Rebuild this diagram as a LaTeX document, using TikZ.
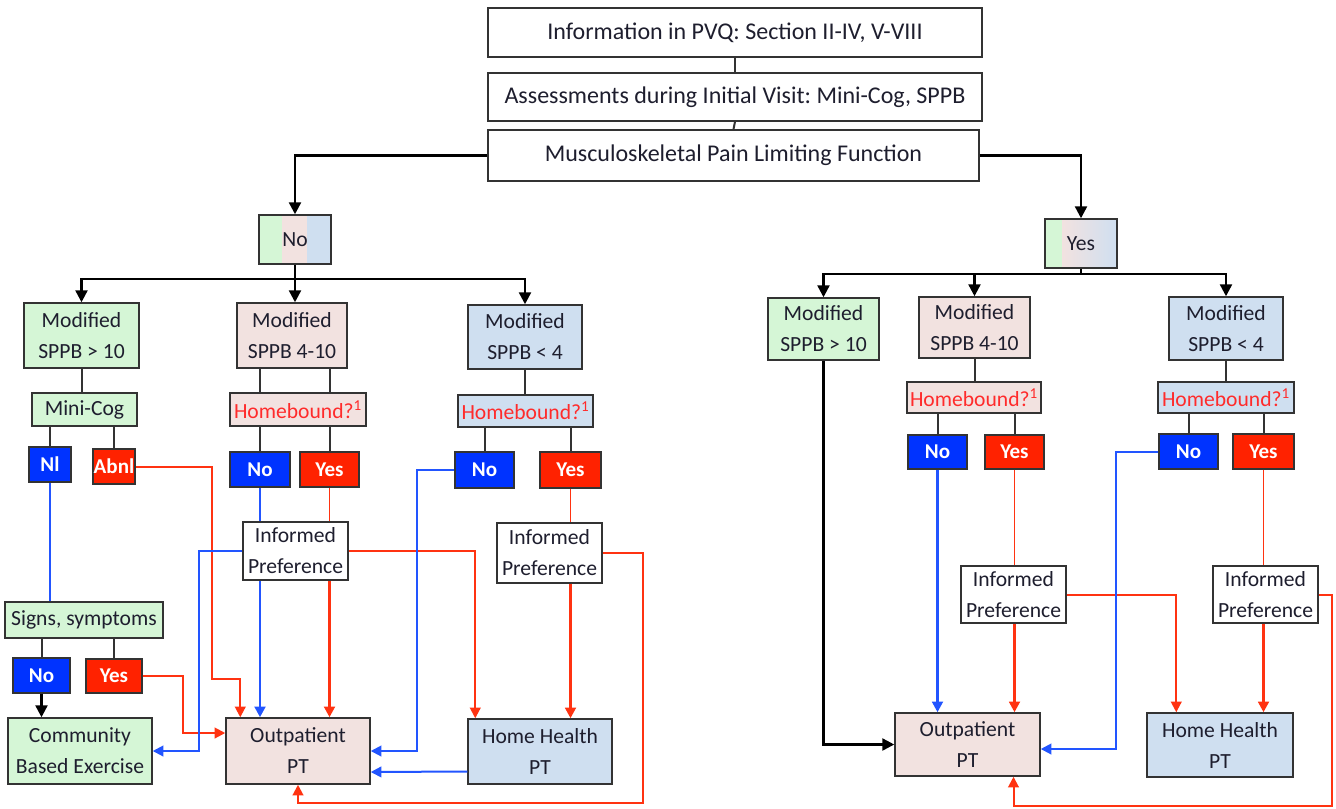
\documentclass[tikz,border=0pt]{standalone}
\usepackage{fontspec}
\setmainfont{Carlito}
\usetikzlibrary{arrows.meta,calc}
\frenchspacing
\definecolor{gF}{HTML}{D5F6D6}
\definecolor{pF}{HTML}{F2E2E0}
\definecolor{bF}{HTML}{CFDFF0}
\definecolor{cNo}{HTML}{0033FF}
\definecolor{cYes}{HTML}{FF2200}
\definecolor{lnR}{HTML}{FF3311}
\definecolor{lnB}{HTML}{2255FF}
\definecolor{hbT}{HTML}{FF2B2B}
\definecolor{bd}{HTML}{333333}
\definecolor{tx}{HTML}{1E1E2E}
\newcommand\pbx[7][]{\node[#1, minimum width={(#4-#2)*0.75pt}, minimum height={(#5-#3)*0.75pt}] (#6) at ({(#2+#4)/2},{(#3+#5)/2}) {#7};}
\tikzset{
  box/.style={draw=bd, line width=1.1pt, inner sep=0pt, align=center, text=tx, font=\fontsize{16.2}{23.25}\selectfont},
  gbox/.style={box, fill=gF},
  pbox/.style={box, fill=pF},
  bbox/.style={box, fill=bF},
  wbox/.style={box, fill=white},
  topbox/.style={box, fill=white, font=\fontsize{18}{22}\selectfont},
  hbt/.style={text=hbT},
  nobox/.style={box, fill=cNo, text=white, font=\fontsize{15.8}{18}\selectfont\bfseries},
  yesbox/.style={box, fill=cYes, text=white, font=\fontsize{15.8}{18}\selectfont\bfseries},
  lk/.style={draw=bd, line width=1.5pt},
  blkA/.style={draw=black, line width=1.8pt, -{Triangle[length=9pt,width=9pt]}},
  rthin/.style={draw=lnR, line width=1.2pt},
  bthin/.style={draw=lnB, line width=1.2pt},
  rA/.style={draw=lnR, line width=2pt, -{Triangle[length=8pt,width=8pt]}},
  bA/.style={draw=lnB, line width=2pt, -{Triangle[length=8pt,width=8pt]}},
  rAt/.style={draw=lnR, line width=1.5pt, -{Triangle[length=8pt,width=8pt]}},
  bAt/.style={draw=lnB, line width=1.5pt, -{Triangle[length=8pt,width=8pt]}},
}
\begin{document}
\begin{tikzpicture}[x=0.75pt,y=-0.75pt]
\useasboundingbox (0,0) rectangle (1336,808);
% top
\pbx[topbox]{488}{8}{982}{57}{info}{Information in PVQ: Section II-IV, V-VIII}
\pbx[topbox]{488}{73}{982}{121}{assess}{Assessments during Initial Visit: Mini-Cog, SPPB}
\pbx[topbox]{488}{130}{979}{181}{musc}{Musculoskeletal Pain Limiting Function}
% No / Yes banded boxes
\fill[gF] (259,215) rectangle (282,264);
\fill[pF] (282,215) rectangle (307,264);
\fill[bF] (307,215) rectangle (331,264);
\pbx[box]{259}{215}{331}{264}{no}{No}
\fill[gF] (1045,219) rectangle (1062,268);
\shade[left color=pF, right color=bF] (1062,219) rectangle (1117,268);
\pbx[box]{1045}{219}{1117}{268}{yes}{Yes}
% left group
\pbx[gbox]{24}{303}{139}{368}{lmA}{Modified\\SPPB > 10}
\pbx[pbox]{237}{303}{347}{368}{lmB}{Modified\\SPPB 4-10}
\pbx[bbox]{468}{305}{582}{369}{lmC}{Modified\\SPPB < 4}
\pbx[gbox]{32}{393}{137}{426}{mc}{Mini-Cog}
\pbx[pbox,hbt]{230}{393}{366}{426}{hbA}{Homebound?\textsuperscript{1}}
\pbx[bbox,hbt]{458}{395}{593}{427}{hbB}{Homebound?\textsuperscript{1}}
\pbx[nobox]{29}{447}{71}{482}{nl}{Nl}
\pbx[yesbox]{93}{449}{135}{484}{abnl}{Abnl}
\pbx[nobox]{230}{452}{290}{487}{noA}{No}
\pbx[yesbox]{300}{452}{359}{487}{yesA}{Yes}
\pbx[nobox]{455}{452}{514}{488}{noB}{No}
\pbx[yesbox]{540}{452}{601}{488}{yesB}{Yes}
\pbx[wbox]{243}{522}{348}{580}{ipA}{Informed\\Preference}
\pbx[wbox]{497}{523}{602}{583}{ipB}{Informed\\Preference}
\pbx[gbox]{5}{602}{163}{638}{ss}{Signs, symptoms}
\pbx[nobox]{13}{658}{70}{693}{ssno}{No}
\pbx[yesbox]{86}{659}{142}{693}{ssyes}{Yes}
\pbx[gbox]{8}{718}{152}{784}{com}{Community\\Based Exercise}
\pbx[pbox]{226}{718}{370}{784}{opA}{Outpatient\\PT}
\pbx[bbox]{468}{719}{612}{784}{hhA}{Home Health\\PT}
% right group
\pbx[gbox]{768}{298}{879}{360}{rmA}{Modified\\SPPB > 10}
\pbx[pbox]{919}{297}{1030}{358}{rmB}{Modified\\SPPB 4-10}
\pbx[bbox]{1169}{297}{1283}{360}{rmC}{Modified\\SPPB < 4}
\pbx[pbox,hbt]{907}{382}{1041}{413}{hbC}{Homebound?\textsuperscript{1}}
\pbx[bbox,hbt]{1158}{382}{1294}{413}{hbD}{Homebound?\textsuperscript{1}}
\pbx[nobox]{908}{435}{967}{469}{noC}{No}
\pbx[yesbox]{985}{435}{1044}{469}{yesC}{Yes}
\pbx[nobox]{1159}{434}{1218}{469}{noD}{No}
\pbx[yesbox]{1233}{434}{1294}{469}{yesD}{Yes}
\pbx[wbox]{961}{566}{1066}{623}{ipC}{Informed\\Preference}
\pbx[wbox]{1213}{566}{1318}{623}{ipD}{Informed\\Preference}
\pbx[pbox]{895}{713}{1040}{776}{opB}{Outpatient\\PT}
\pbx[bbox]{1147}{713}{1293}{777}{hhB}{Home Health\\PT}
% top connectors
\draw[lk] (info.south) -- (assess.north);
\draw[lk] (assess.south) -- (musc.north);
\draw[blkA] (musc.west) -| (no.north);
\draw[blkA] (musc.east) -| (yes.north);
\coordinate (nbar) at (295,279);
\coordinate (ybar) at (1081,274);
\draw[blkA] (no.south) -- (no.south |- lmB.north);
\draw[blkA] (nbar) -| (lmA.north);
\draw[blkA] (nbar) -| (lmC.north);
\draw[draw=black, line width=1.8pt] (yes.south) -- (ybar);
\draw[blkA] (ybar) -| (rmA.north);
\draw[blkA] (ybar) -| (rmB.north);
\draw[blkA] (ybar) -| (rmC.north);
% left grey links
\draw[lk] (lmA.south) -- (lmA.south |- mc.north);
\draw[lk] (nl.north |- mc.south) -- (nl.north);
\draw[lk] (abnl.north |- mc.south) -- (abnl.north);
\draw[lk] (noA.north |- lmB.south) -- (noA.north |- hbA.north);
\draw[lk] (yesA.north |- lmB.south) -- (yesA.north |- hbA.north);
\draw[lk] (noA.north |- hbA.south) -- (noA.north);
\draw[lk] (yesA.north |- hbA.south) -- (yesA.north);
\draw[lk] (lmC.south) -- (lmC.south |- hbB.north);
\draw[lk] (noB.north |- hbB.south) -- (noB.north);
\draw[lk] (yesB.north |- hbB.south) -- (yesB.north);
\draw[lk] (ssno.north |- ss.south) -- (ssno.north);
\draw[lk] (ssyes.north |- ss.south) -- (ssyes.north);
\draw[blkA] (ssno.south) -- (ssno.south |- com.north);
% right grey links
\draw[lk] (rmB.south) -- (rmB.south |- hbC.north);
\draw[lk] (noC.north |- hbC.south) -- (noC.north);
\draw[lk] (yesC.north |- hbC.south) -- (yesC.north);
\draw[lk] (rmC.south) -- (rmC.south |- hbD.north);
\draw[lk] (noD.north |- hbD.south) -- (noD.north);
\draw[lk] (yesD.north |- hbD.south) -- (yesD.north);
% left coloured connectors
\draw[bthin] (nl.south) -- (nl.south |- ss.north);
\draw[rAt] (abnl.east) -| (212,679) -| ($(opA.north west)+(15,0)$);
\draw[rAt] (ssyes.east) -| (183,733) -- ($(opA.west)+(0,-18)$);
\draw[bAt] (ipA.west) -| (199,751) -- (com.east);
\draw[bthin] (noA.south) -- (noA.south |- ipA.north);
\draw[bA] (noA.south |- ipA.south) -- (noA.south |- opA.north);
\draw[rthin] (yesA.south) -- (yesA.south |- ipA.north);
\draw[rA] (yesA.south |- ipA.south) -- (yesA.south |- opA.north);
\draw[rAt] (ipA.east) -| ($(hhA.north west)+(8,0)$);
\draw[bAt] (noB.west) -| (417,751) -- (opA.east);
\draw[bAt] ($(hhA.west)+(0,20)$) -- ($(opA.east)+(0,21)$);
\draw[rthin] (yesB.south) -- (yesB.south |- ipB.north);
\draw[rA] (yesB.south |- ipB.south) -- (yesB.south |- hhA.north);
\draw[rAt] (ipB.east) -| (643,803) -| (opA.south);
% right coloured connectors
\draw[blkA] (rmA.south) |- (opB.west);
\draw[bA] (noC.south) -- (noC.south |- opB.north);
\draw[rthin] (yesC.south) -- (yesC.south |- ipC.north);
\draw[rA] (yesC.south |- ipC.south) -- (yesC.south |- opB.north);
\draw[rAt] (ipC.east) -| ($(hhB.north west)+(30,0)$);
\draw[bAt] (noD.west) -| (1116,749) -- ($(opB.east)+(0,4.5)$);
\draw[rthin] (yesD.south) -- (yesD.south |- ipD.north);
\draw[rA] (yesD.south |- ipD.south) -- (yesD.south |- hhB.north);
\draw[rAt] (ipD.east) -| (1332,806) -| ($(opB.south)+(46,0)$);
\end{tikzpicture}
\end{document}
